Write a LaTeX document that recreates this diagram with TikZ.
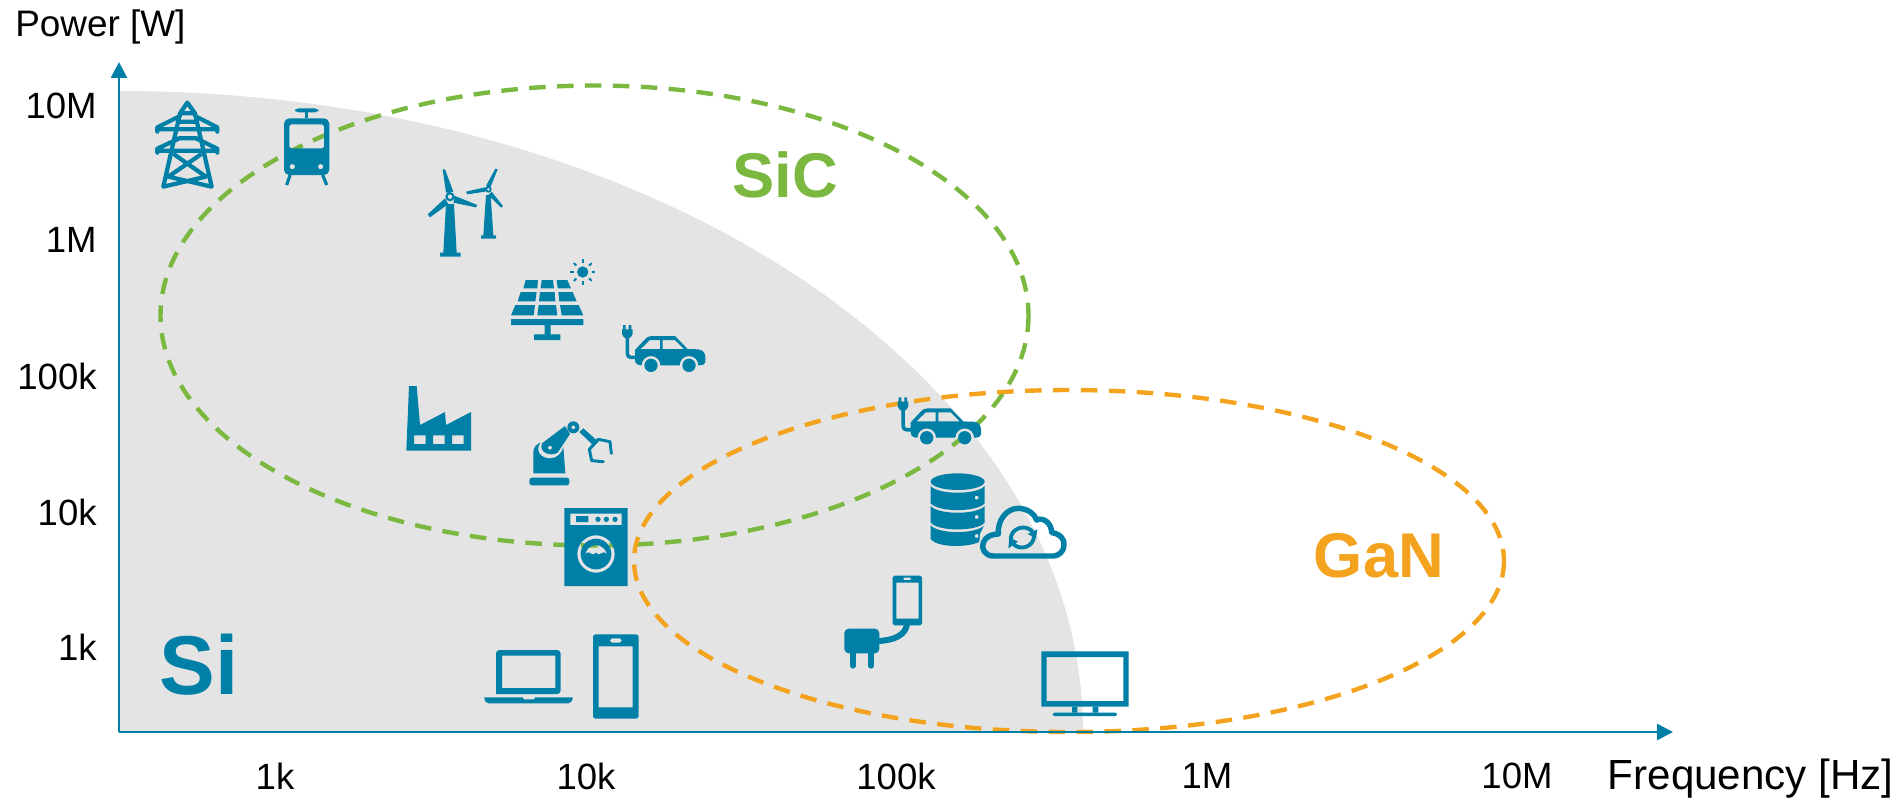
\documentclass[tikz,border=0pt]{standalone}
\usepackage{fontspec}
\setmainfont{Liberation Sans}
\usepackage{tikz}
\usetikzlibrary{arrows.meta}
\definecolor{iconblue}{HTML}{0080A6}
\definecolor{sicgreen}{HTML}{7AB840}
\definecolor{ganorange}{HTML}{F4A31F}
\definecolor{sigray}{HTML}{E4E4E4}
\tikzstyle{axis} = [draw=iconblue,line width=1.5pt,-{Triangle[length=9.1pt,width=9.1pt]}]
\tikzstyle{region} = [line width=2.5pt,dash pattern=on 9.4pt off 6.5pt]
\tikzstyle{tick} = [font=\fontsize{20.8}{24}\selectfont,text=black,inner sep=0pt]
\tikzstyle{material} = [font=\fontsize{36}{42}\selectfont\bfseries,inner sep=0pt]
\tikzstyle{icon} = [fill=iconblue,even odd rule]
\tikzstyle{iconline} = [draw=iconblue,line width=2.4pt,line join=round,line cap=round]

% car with its charging plug, in crop pixels
\newcommand{\carplug}[1]{
	\begin{scope}[shift={#1},scale=1/3]
		\fill[icon] (735,330) -- (763,300) .. controls (772,291) and (775,288) .. (785,288) -- (855,288) -- (893,327) -- (925,328)
			.. controls (940,330) and (946,340) .. (946,352) -- (946,366) .. controls (946,372) and (940,376) .. (925,376)
			.. controls (925,360) and (912,348) .. (897,348) .. controls (882,348) and (869,360) .. (869,376) -- (811,376)
			.. controls (811,360) and (798,348) .. (783,348) .. controls (768,348) and (755,360) .. (755,376)
			.. controls (742,376) and (735,370) .. (735,360) -- cycle
			(752,327) -- (780,300) -- (810,300) -- (810,327) -- cycle
			(818,300) -- (855,300) -- (882,327) -- (818,327) -- cycle;
		\fill[icon] (783,376) circle (20) (897,376) circle (20);
		\fill[icon] (699,255) rectangle (707,272) (716,255) rectangle (724,272);
		\fill[icon] (696,268) -- (728,268) -- (728,278) .. controls (728,288) and (720,296) .. (712,296) .. controls (704,296) and (696,288) .. (696,278) -- cycle;
		\draw[iconline,line width=2pt,line cap=butt] (712,290) -- (712,340) .. controls (712,348) and (716,352) .. (722,352) -- (738,352);
	\end{scope}
}

\begin{document}
\begin{tikzpicture}[x=0.02cm,y=-0.02cm]
	\useasboundingbox (0,0) rectangle (1902,802);
	\coordinate (origin) at (119,732);
	\coordinate (ytip) at (119,62);
	\coordinate (xtip) at (1673,732);

	% Si area, then the two dashed regions
	\fill[sigray] (119,91) .. controls (651,91) and (1083,377) .. (1083,732) -- (119,732) -- cycle;
	\draw[region,sicgreen] (594.5,315.5) ellipse (434 and 230);
	\draw[region,ganorange] (1069,561) ellipse (435 and 171);

	% pylon
	\begin{scope}[shift={(130,80)},scale=1/3]
		\draw[iconline] (172,68) -- (150,100) -- (100,320) -- (228,290) -- (135,225)
			(172,68) -- (195,100) -- (245,320) -- (115,290) -- (210,225)
			(150,100) -- (195,100) (148,125) -- (197,125) (146,175) -- (200,175)
			(82,155) -- (82,142) -- (150,108) (262,155) -- (262,142) -- (195,108) (82,148) -- (262,148)
			(82,218) -- (82,206) -- (146,176) (262,218) -- (262,206) -- (200,176) (82,212) -- (262,212);
	\end{scope}

	% tram
	\begin{scope}[shift={(130,80)},scale=1/3]
		\fill[icon,rounded corners=2pt] (495,85) rectangle (565,97);
		\fill[icon] (525,97) rectangle (535,115);
		\fill[icon] [rounded corners=3pt] (462,115) rectangle (598,285) [rounded corners=1pt] (478,133) rectangle (582,205)
			[sharp corners] (487,260) circle (8) (572,260) circle (8);
		\draw[iconline,line width=1.8pt,line cap=butt] (480,285) -- (470,315) (578,285) -- (590,315);
	\end{scope}

	% wind turbines
	\begin{scope}[shift={(130,80)},scale=1/3]
		\fill[icon] (948,372) -- (972,372) -- (980,518) -- (992,518) -- (992,530) -- (930,530) -- (930,518) -- (940,518) -- cycle;
		\fill[icon] (938,268) -- (945,268) -- (970,335) -- (948,338) -- cycle
			(975,348) -- (1042,375) -- (1038,382) -- (970,368) -- cycle
			(945,355) -- (955,372) -- (900,412) -- (893,403) -- cycle
			(960,350) circle (14) (960,350) circle (7);
		\fill[icon] (1068,345) -- (1082,345) -- (1090,466) -- (1098,466) -- (1098,476) -- (1053,476) -- (1053,466) -- (1060,466) -- cycle;
		\fill[icon] (1068,318) -- (1096,266) -- (1103,268) -- (1082,320) -- cycle
			(1065,322) -- (1065,335) -- (1012,343) -- (1008,335) -- cycle
			(1085,335) -- (1119,378) -- (1113,383) -- (1075,345) -- cycle
			(1075,328) circle (10) (1075,328) circle (5);
	\end{scope}

	% solar panel with sun
	\begin{scope}[shift={(390,240)},scale=1/3]
		\fill[icon] (578,96) circle (17);
		\foreach \ang in {0,45,...,315}
		\draw[iconline,line width=1.1pt,line cap=butt] ({578+27*cos(\ang)},{96+27*sin(\ang)}) -- ({578+38*cos(\ang)},{96+38*sin(\ang)});
		\fill[icon] (407,120) -- (444,120) -- (442,145) -- (400,145) -- cycle
			(455,120) -- (489,120) -- (492,145) -- (452,145) -- cycle
			(500,120) -- (532,120) -- (543,145) -- (503,145) -- cycle
			(392,156) -- (440,156) -- (436,184) -- (383,184) -- cycle
			(450,156) -- (494,156) -- (496,184) -- (447,184) -- cycle
			(505,156) -- (548,156) -- (560,184) -- (508,184) -- cycle
			(376,195) -- (435,195) -- (431,226) -- (363,226) -- cycle
			(446,195) -- (498,195) -- (502,226) -- (442,226) -- cycle
			(510,195) -- (566,195) -- (580,226) -- (515,226) -- cycle
			(363,237) rectangle (580,255) (464,255) rectangle (482,283) (432,283) rectangle (511,300);
	\end{scope}

	% the two cars
	\carplug{(390,240)}
	\carplug{(665.7,312.4)}

	% factory
	\begin{scope}[shift={(390,240)},scale=1/3]
		\fill[icon] (57,438) -- (80,438) -- (90,555) -- (165,516) -- (168,555) -- (243,516) -- (243,632) -- (49,632) -- cycle
			(72,586) rectangle (107,612) (129,586) rectangle (164,612) (186,586) rectangle (221,612);
	\end{scope}

	% robot arm
	\begin{scope}[shift={(520,410)},scale=1/3]
		\fill[icon,rounded corners=1.5pt] (28,226) -- (28,203) -- (148,203) -- (148,226) -- cycle;
		\fill[icon] (40,190) -- (40,125) .. controls (40,112) and (50,103) .. (62,97) .. controls (45,120) and (60,145) .. (90,145) .. controls (110,145) and (125,130) .. (130,112) -- (136,190) -- cycle;
		\fill[icon] (66,100) -- (135,48) -- (150,72) -- (113,128) .. controls (95,140) and (55,130) .. (66,100) -- cycle
			(90,113) circle (6);
		\fill[icon] (160,52) circle (18) (160,52) circle (6);
		\fill[icon] (178,66) -- (190,55) -- (235,95) -- (222,108) -- cycle;
		\draw[iconline,line width=1.7pt] (274,130) -- (270,95) -- (235,88) -- (208,118) -- (215,152) -- (250,155);
	\end{scope}

	% washing machine, laptop and phone
	\begin{scope}[shift={(460,490)},scale=1/3]
		\fill[icon] (313,54) rectangle (503,288)
			(331,71) rectangle (485,105)
			(408,192) circle (56) (408,192) circle (46)
			(375,195) .. controls (378,178) and (392,165) .. (408,165) .. controls (424,165) and (438,178) .. (442,195)
			.. controls (435,185) and (428,185) .. (424,190) .. controls (418,195) and (413,195) .. (408,188)
			.. controls (403,195) and (398,195) .. (392,190) .. controls (388,185) and (382,185) .. (375,195) -- cycle;
		\fill[icon] (348,78) rectangle (385,96) (414,88) circle (8) (439,88) circle (8) (465,88) circle (8);
		\fill[icon] [rounded corners=2pt] (108,612) -- (108,480) -- (302,480) -- (302,612) [sharp corners] -- cycle (126,497) rectangle (286,594);
		\fill[icon] (73,622) -- (188,622) -- (192,628) -- (222,628) -- (226,622) -- (338,622) .. controls (338,632) and (332,640) .. (325,640) -- (85,640) .. controls (78,640) and (73,632) .. (73,622) -- cycle;
		\fill[icon] [rounded corners=1.5pt] (399,433) rectangle (536,686) [sharp corners] (416,469) rectangle (518,652)
			[rounded corners=1pt] (450,445) rectangle (485,458);
	\end{scope}

	% database and cloud
	\begin{scope}[shift={(860,380)},scale=1/3]
		\fill[icon] (293,305) ellipse (81 and 25);
		\fill[icon] (212,318) .. controls (235,345) and (350,345) .. (374,318) -- (374,370) .. controls (350,397) and (235,397) .. (212,370) -- cycle
			(350,353) circle (6);
		\fill[icon] (212,378) .. controls (235,405) and (350,405) .. (374,378) -- (374,428) .. controls (350,455) and (235,455) .. (212,428) -- cycle
			(350,411) circle (6);
		\fill[icon] (212,436) .. controls (235,463) and (350,463) .. (372,436) -- (360,462) -- (358,486) .. controls (320,503) and (235,503) .. (212,478) -- cycle
			(350,468) circle (6);
		\draw[iconline,line width=3.1pt] (400,528) .. controls (375,528) and (362,505) .. (370,488) .. controls (376,470) and (395,462) .. (415,462)
			.. controls (412,420) and (440,385) .. (475,385) .. controls (505,385) and (525,405) .. (530,420)
			.. controls (550,410) and (575,430) .. (575,458) .. controls (600,460) and (615,480) .. (612,495)
			.. controls (612,515) and (595,528) .. (580,528) -- cycle;
		\draw[iconline,line width=2.2pt,line cap=butt] (452,478) .. controls (452,445) and (495,430) .. (518,455);
		\fill[icon] (532,448) -- (528,475) -- (503,462) -- cycle;
		\draw[iconline,line width=2.2pt,line cap=butt] (522,470) .. controls (520,500) and (480,515) .. (458,490);
		\fill[icon] (445,505) -- (448,472) -- (474,485) -- cycle;
	\end{scope}

	% charger, phone and monitor
	\begin{scope}[shift={(820,560)},scale=1/3]
		\fill[icon] [rounded corners=1pt] (218,47) rectangle (306,196) [sharp corners] (229,68) rectangle (296,176)
			[rounded corners=.5pt] (250,53) rectangle (273,60);
		\draw[iconline,line width=3.4pt,line cap=butt] (261,194) .. controls (255,225) and (225,240) .. (176,243);
		\fill[icon,rounded corners=2.5pt] (73,206) rectangle (178,280);
		\draw[iconline,line width=3.8pt] (99,276) -- (99,316) (153,276) -- (153,316);
		\fill[icon] (664,274) rectangle (926,440) (680,291) rectangle (910,423);
		\fill[icon] (756,440) rectangle (772,458) (818,440) rectangle (835,458);
		\fill[icon,rounded corners=1pt] (697,458) rectangle (892,468);
	\end{scope}

	% Axes go on top of everything
	\path[axis] (origin) -- (ytip);
	\path[axis] (origin) -- (xtip);

	\foreach \y/\name in {105.5/10M, 240/1M, 376/100k, 512/10k, 647/1k}
	\node[tick,anchor=east] (p\name) at (97,\y) {\name};
	\foreach \x/\name in {275/1k, 586/10k, 896/100k, 1207/1M, 1517/10M}
	\node[tick] (f\name) at (\x,776) {\name};

	\node[tick,anchor=west,font=\fontsize{21}{25}\selectfont] (power) at (15,27) {Power [W]};
	\node[tick,anchor=east,font=\fontsize{24}{28}\selectfont] (frequency) at (1894,779) {Frequency [Hz]};

	\node[material,text=sicgreen] (sic) at (785,175) {SiC};
	\node[material,text=ganorange] (gan) at (1379,556) {GaN};
	\node[material,text=iconblue,font=\fontsize{47.5}{52}\selectfont\bfseries] (si) at (199,665) {Si};
\end{tikzpicture}
\end{document}
